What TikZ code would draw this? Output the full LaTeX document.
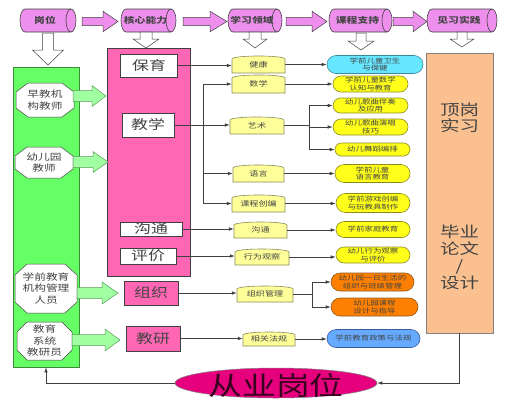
\documentclass[tikz,border=0pt]{standalone}
\usepackage{fontspec}
\setmainfont{Noto Sans CJK SC}[FakeStretch=1.3]
\usetikzlibrary{shapes.geometric,shapes.misc,arrows.meta,calc}
\definecolor{cylpink}{HTML}{EE8FEE}
\definecolor{greenfill}{HTML}{66FF66}
\definecolor{greendraw}{HTML}{3A8A3A}
\definecolor{lgreen}{HTML}{A0FFA0}
\definecolor{lgreendraw}{HTML}{5A9A5A}
\definecolor{pinkfill}{HTML}{FF66B3}
\definecolor{ly}{HTML}{FFFF99}
\definecolor{lydraw}{HTML}{8A8A60}
\definecolor{py}{HTML}{FFFF1A}
\definecolor{pydraw}{HTML}{8A8A20}
\definecolor{pcyan}{HTML}{66E6FF}
\definecolor{pcyandraw}{HTML}{3A8A9A}
\definecolor{porange}{HTML}{FF8000}
\definecolor{porangedraw}{HTML}{8A5A20}
\definecolor{pblue}{HTML}{66AAFF}
\definecolor{pbluedraw}{HTML}{3A5A9A}
\definecolor{peach}{HTML}{FAC090}
\definecolor{magent}{HTML}{E6007E}
\definecolor{linegray}{HTML}{404040}
\definecolor{txt}{HTML}{444444}
\newcommand{\rblock}[7]{%
\draw[#1] (#2,{#4-#5}) -- ({#3-#7},{#4-#5}) -- ({#3-#7},{#4-#6}) -- (#3,#4) -- ({#3-#7},{#4+#6}) -- ({#3-#7},{#4+#5}) -- (#2,{#4+#5}) -- cycle;}
\newcommand{\dblock}[7]{%
\draw[#1] ({#2-#5},#3) -- ({#2-#5},{#4-#7}) -- ({#2-#6},{#4-#7}) -- (#2,#4) -- ({#2+#6},{#4-#7}) -- ({#2+#5},{#4-#7}) -- ({#2+#5},#3) -- cycle;}
\newcommand{\octa}[8]{%
\draw[octshape] ({#2-#4/2+#6},{#3-#5/2}) -- ({#2+#4/2-#6},{#3-#5/2}) -- ({#2+#4/2},{#3-#5/2+#7}) -- ({#2+#4/2},{#3+#5/2-#7}) -- ({#2+#4/2-#6},{#3+#5/2}) -- ({#2-#4/2+#6},{#3+#5/2}) -- ({#2-#4/2},{#3+#5/2-#7}) -- ({#2-#4/2},{#3-#5/2+#7}) -- cycle;
\node[octtext, minimum width=#4pt, minimum height=#5pt] (#1) at (#2,#3) {#8};}
\newcommand{\lbox}[6]{%
\draw[lshape] ({#2-#4/2},{#3+#5/2}) -- ({#2-#4/2},{#3-#5/2+3}) .. controls ({#2-#4/2+1},{#3-#5/2-1}) and ({#2+#4/2-1},{#3-#5/2-1}) .. ({#2+#4/2},{#3-#5/2+3}) -- ({#2+#4/2},{#3+#5/2}) -- cycle;
\node[ltext, minimum width=#4pt, minimum height=#5pt] (#1) at (#2,#3) {#6};}
% horizontal cylinder: name, x0, x1, cy, ry, text ; cap x-radius 5
\newcommand{\hcyl}[6]{%
\draw[cylshape] ({#2+5},{#4-#5}) -- ({#3-5},{#4-#5})
  .. controls ({#3-5+0.55*5},{#4-#5}) and (#3,{#4-0.55*#5}) .. (#3,#4)
  .. controls (#3,{#4+0.55*#5}) and ({#3-5+0.55*5},{#4+#5}) .. ({#3-5},{#4+#5})
  -- ({#2+5},{#4+#5})
  .. controls ({#2+5-0.55*5},{#4+#5}) and (#2,{#4+0.55*#5}) .. (#2,#4)
  .. controls (#2,{#4-0.55*#5}) and ({#2+5-0.55*5},{#4-#5}) .. ({#2+5},{#4-#5}) -- cycle;
\draw[cylshape, fill=none] ({#3-5},{#4-#5})
  .. controls ({#3-5-0.55*5},{#4-#5}) and ({#3-10},{#4-0.55*#5}) .. ({#3-10},#4)
  .. controls ({#3-10},{#4+0.55*#5}) and ({#3-5-0.55*5},{#4+#5}) .. ({#3-5},{#4+#5});
\node[cyltext] (#1) at ({(#2+#3)/2-3},#4) {#6};}
\tikzset{
  cylshape/.style={fill=cylpink, draw=linegray, line width=0.6pt},
  cyltext/.style={inner sep=0pt, text=txt, font=\fontsize{8.3}{9}\selectfont\bfseries},
  parrow/.style={fill=cylpink, draw=linegray, line width=0.5pt},
  darrow/.style={fill=white, draw=linegray, line width=0.5pt},
  garrow/.style={fill=lgreen, draw=lgreendraw, line width=0.5pt},
  greenbox/.style={fill=greenfill, draw=greendraw, line width=0.7pt},
  pinkbig/.style={fill=pinkfill, draw=linegray, line width=0.6pt},
  peachbox/.style={fill=peach, draw=gray, line width=0.6pt},
  octshape/.style={fill=white, draw=linegray, line width=0.5pt},
  octtext/.style={inner sep=0pt, align=center, text=txt, font=\fontsize{9}{11.5}\selectfont},
  wbox/.style={fill=white, draw=linegray, line width=0.6pt, inner sep=0pt, text=txt, font=\fontsize{13}{14}\selectfont},
  pbox/.style={fill=pinkfill, draw=linegray, line width=0.6pt, inner sep=0pt, text=txt, font=\fontsize{13}{14}\selectfont},
  lshape/.style={fill=ly, draw=lydraw, line width=0.6pt},
  ltext/.style={inner sep=0pt, text=txt, font=\fontsize{7}{8}\selectfont},
  pill/.style={rounded rectangle, inner sep=0pt, line width=0.6pt, align=center, text=txt, font=\fontsize{6.5}{7.5}\selectfont},
  ypill/.style={pill, fill=py, draw=pydraw},
  conn/.style={draw=linegray, line width=0.6pt},
  arr/.style={conn, -{Latex[length=5pt,width=3.5pt]}},
}
\begin{document}
\begin{tikzpicture}[x=1pt, y=-1pt]
\useasboundingbox (0,0) rectangle (510,410);
% top cylinders
\hcyl{gw}{20}{76}{20.5}{11.5}{岗位}
\hcyl{hx}{121}{176}{20.5}{11.5}{核心能力}
\hcyl{xx}{228}{282}{20.5}{11.5}{学习领域}
\hcyl{kc}{329}{392}{20.5}{11.5}{课程支持}
\hcyl{jx}{427}{497}{20.5}{11.5}{见习实践}
\rblock{parrow}{82}{118}{21.5}{4.2}{10.3}{15}
\rblock{parrow}{183}{227}{21.5}{4.2}{10.3}{17}
\rblock{parrow}{286}{327}{21.5}{4.2}{10.3}{15}
\rblock{parrow}{393}{427}{21.5}{4.2}{10.3}{14}
% big boxes
\node[greenbox, minimum width=66pt, minimum height=300pt] (green) at (46,217) {};
\node[pinkbig, minimum width=83pt, minimum height=228pt] (core) at (148.5,162) {};
\node[peachbox, minimum width=67pt, minimum height=280pt] (prac) at (459.5,193) {};
% down arrows
\dblock{darrow}{48}{33}{65}{5.5}{15.5}{15}
\dblock{darrow}{146}{32}{48}{6}{13}{9}
\dblock{darrow}{255}{32}{48}{6}{12}{9}
\dblock{darrow}{361}{33}{50}{5}{13}{9}
\dblock{darrow}{462}{32}{47}{5}{12}{8}
% octagons
\octa{o1}{45}{100}{58}{34}{12}{9}{早教机\\构教师}
\octa{o2}{44}{162.5}{58}{31}{12}{9}{幼儿园\\教师}
\octa{o3}{46}{288.5}{62}{49}{12}{11}{学前教育\\机构管理\\人员}
\octa{o4}{44.5}{341}{55}{38}{10}{10}{教育\\系统\\教研员}
% green arrows
\rblock{garrow}{73}{106}{96}{5.5}{10.5}{14}
\rblock{garrow}{73}{108}{162}{5.5}{10.5}{15}
\rblock{garrow}{77}{118}{293}{5.5}{11}{16}
\rblock{garrow}{72}{120}{340}{5.5}{11}{15}
% core abilities
\node[wbox, minimum width=57pt, minimum height=23pt] (by) at (149,65.5) {保育};
\node[wbox, minimum width=52pt, minimum height=24pt] (jxue) at (148,125) {教学};
\node[wbox, minimum width=62pt, minimum height=14pt] (gt) at (151,229) {沟通};
\node[wbox, minimum width=56pt, minimum height=16pt] (pj) at (148,256) {评价};
\node[pbox, minimum width=54pt, minimum height=24pt] (zz) at (151,293) {组织};
\node[pbox, minimum width=54pt, minimum height=25pt] (jy) at (153,338.5) {教研};
% learning areas
\lbox{l1}{258.5}{64.5}{53}{17}{健康}
\lbox{l2}{258.5}{84}{53}{18}{数学}
\lbox{l3}{257}{125.5}{54}{17}{艺术}
\lbox{l4}{258.5}{173.5}{51}{17}{语言}
\lbox{l5}{258.5}{203.5}{53}{17}{课程创编}
\lbox{l6}{260.5}{230}{53}{16}{沟通}
\lbox{l7}{262}{257}{54}{16}{行为观察}
\lbox{l8}{265}{294}{56}{16}{组织管理}
\lbox{l9}{269}{339}{52}{14}{相关法规}
% courses
\node[pill, fill=pcyan, draw=pcyandraw, minimum width=96pt, minimum height=18pt] (c1) at (375,64.5) {学前儿童卫生\\与保健};
\node[ypill, minimum width=75pt, minimum height=16pt] (c2) at (370.5,84) {学前儿童数学\\认知与教育};
\node[ypill, minimum width=75pt, minimum height=15pt] (c3) at (370.5,105.5) {幼儿歌曲伴奏\\及应用};
\node[ypill, minimum width=75pt, minimum height=16pt] (c4) at (370.5,127) {幼儿歌曲演唱\\技巧};
\node[ypill, minimum width=75pt, minimum height=13pt] (c5) at (372.5,149.5) {幼儿舞蹈编排};
\node[ypill, minimum width=75pt, minimum height=18pt] (c6) at (372.5,173.5) {学前儿童\\语言教育};
\node[ypill, minimum width=74pt, minimum height=19pt] (c7) at (373,203) {学前游戏创编\\与玩教具制作};
\node[ypill, minimum width=74pt, minimum height=16pt] (c8) at (373,229.5) {学前家庭教育};
\node[ypill, minimum width=74pt, minimum height=16pt] (c9) at (373,255) {幼儿行为观察\\与评价};
\node[pill, fill=porange, draw=porangedraw, minimum width=83pt, minimum height=18pt] (c10) at (372.5,282) {幼儿园一日生活的\\组织与班级管理};
\node[pill, fill=porange, draw=porangedraw, minimum width=87pt, minimum height=18pt] (c11) at (374.5,307) {幼儿园课程\\设计与指导};
\node[pill, fill=pblue, draw=pbluedraw, minimum width=93pt, minimum height=18pt] (c12) at (373.5,338.5) {学前教育政策与法规};
% practice texts
\node[text=txt, align=center, font=\fontsize{15}{16.5}\selectfont] (dg) at (459.5,118) {顶岗\\实习};
\node[text=txt, align=center, font=\fontsize{15}{17}\selectfont] (by2) at (459.5,257) {毕业\\论文\\/\\设计};
% ellipse
\node[ellipse, fill=magent, draw=gray, line width=0.5pt, inner sep=0pt, minimum width=202pt, minimum height=30pt] (job) at (276,383) {};
\node[text=black!75!magent, font=\fontsize{26}{28}\selectfont] (jobt) at (276,385) {从业岗位};
% connectors
\draw[arr] (by.east) -- (by.east -| l1.west);
\draw[arr] (jxue.east) -- (jxue.east -| l3.west);
\coordinate (tb) at (203,125);
\draw[conn] (tb |- l2.west) -- (tb |- l5.west);
\draw[arr] (tb |- l2.west) -- (l2.west);
\draw[arr] (tb |- l4.west) -- (l4.west);
\draw[arr] (tb |- l5.west) -- (l5.west);
\draw[arr] (gt.east) -- (gt.east -| l6.west);
\draw[arr] (pj.east) -- (pj.east -| l7.west);
\draw[arr] (zz.east) -- (zz.east -| l8.west);
\draw[arr] (jy.east) -- (jy.east -| l9.west);
\draw[arr] (l1.east) -- (l1.east -| c1.west);
\draw[arr] (l2.east) -- (l2.east -| c2.west);
\coordinate (ab) at (309,125.5);
\draw[conn] (l3.east) -- (ab);
\draw[conn] (ab |- c3.west) -- (ab |- c5.west);
\draw[arr] (ab |- c3.west) -- (c3.west);
\draw[arr] (ab |- c4.west) -- (c4.west);
\draw[arr] (ab |- c5.west) -- (c5.west);
\draw[arr] (l4.east) -- (l4.east -| c6.west);
\draw[arr] (l5.east) -- (l5.east -| c7.west);
\draw[arr] (l6.east) -- (l6.east -| c8.west);
\draw[arr] (l7.east) -- (l7.east -| c9.west);
\coordinate (ob) at (312,294);
\draw[conn] (l8.east) -- (ob);
\draw[conn] (ob |- c10.west) -- (ob |- c11.west);
\draw[arr] (ob |- c10.west) -- (c10.west);
\draw[arr] (ob |- c11.west) -- (c11.west);
\draw[arr] (l9.east) -- (l9.east -| c12.west);
\draw[arr] (prac.south) |- (job.east);
\draw[arr] (job.west) -| (green.south);
\end{tikzpicture}
\end{document}
